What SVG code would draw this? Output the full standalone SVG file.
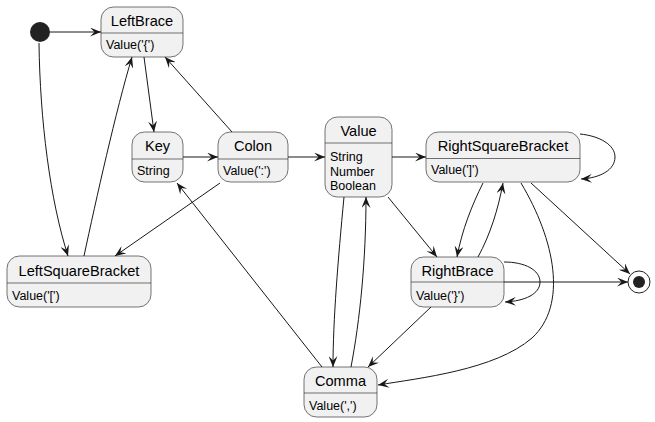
<svg xmlns="http://www.w3.org/2000/svg" width="655" height="422" viewBox="0 0 655 422">
<defs>
<style>
.n rect{fill:#F1F1F1;stroke:#181818;stroke-width:0.6}
.n line{stroke:#181818;stroke-width:0.6}
.t{font-family:"Liberation Sans",Arial,sans-serif;font-size:14.6px;fill:#000;text-anchor:middle}
.b{font-family:"Liberation Sans",Arial,sans-serif;font-size:12.5px;fill:#000}
#edges path{fill:none;stroke:#181818;stroke-width:1;marker-end:url(#ah)}
</style>
<marker id="ah" markerUnits="userSpaceOnUse" markerWidth="11" markerHeight="9" refX="11" refY="4.5" orient="auto" viewBox="0 0 11 9">
<path d="M0,0 L11,4.5 L0,9 L4.5,4.5 Z" fill="#181818"/>
</marker>
</defs>
<rect width="655" height="422" fill="#FFFFFF"/>
<g id="edges">
<path d="M50,32 L101,32"/>
<path d="M39,43 C40,120 50,200 68,256"/>
<path d="M84,256 C96,200 116,110 132,57"/>
<path d="M144,57 L154,132"/>
<path d="M232,132 L165,57"/>
<path d="M183,157 L218,157"/>
<path d="M288,157 L325,157"/>
<path d="M220,183 L115,256"/>
<path d="M322,367 L177,183"/>
<path d="M392,157 L426,157"/>
<path d="M388,197 L437,257"/>
<path d="M344,197 C338,260 333,320 333,367"/>
<path d="M351,367 C360,320 366,260 366,197"/>
<path d="M580,134 C600,136 615,145 615,157 C615,170 600,178 581,179"/>
<path d="M483,183 C472,205 462,230 457,257"/>
<path d="M478,257 C490,235 498,210 503,183"/>
<path d="M521,183 C555,240 568,305 532,338 C495,370 420,378 378,385"/>
<path d="M531,183 L630,274"/>
<path d="M504,262 C525,262 540,270 540,282 C540,294 525,301 505,302"/>
<path d="M504,282 L628,282"/>
<path d="M431,307 L368,367"/>
</g>
<g id="start"><circle cx="40" cy="32" r="10" fill="#222222"/></g>
<g id="end"><circle cx="639" cy="282" r="11" fill="none" stroke="#222222" stroke-width="1"/><circle cx="639" cy="282" r="6" fill="#222222"/></g>
<g id="LeftBrace" class="n"><rect x="101" y="7" width="82" height="50" rx="12.5"/><line x1="101" y1="33" x2="183" y2="33"/><text class="t" x="142" y="26">LeftBrace</text><text class="b" x="106" y="49">Value('{')</text></g>
<g id="Key" class="n"><rect x="132" y="132" width="51" height="50" rx="12.5"/><line x1="132" y1="159" x2="183" y2="159"/><text class="t" x="157.5" y="151">Key</text><text class="b" x="137" y="175">String</text></g>
<g id="Colon" class="n"><rect x="218" y="132" width="70" height="50" rx="12.5"/><line x1="218" y1="159" x2="288" y2="159"/><text class="t" x="253" y="151">Colon</text><text class="b" x="223" y="175">Value(':')</text></g>
<g id="Value" class="n"><rect x="325" y="117" width="67" height="80" rx="12.5"/><line x1="325" y1="143" x2="392" y2="143"/><text class="t" x="358.5" y="136">Value</text><text class="b" x="330" y="161">String</text><text class="b" x="330" y="175.5">Number</text><text class="b" x="330" y="190">Boolean</text></g>
<g id="RightSquareBracket" class="n"><rect x="426" y="132" width="154" height="50" rx="12.5"/><line x1="426" y1="158.5" x2="580" y2="158.5"/><text class="t" x="503" y="151">RightSquareBracket</text><text class="b" x="431" y="174">Value(']')</text></g>
<g id="RightBrace" class="n"><rect x="411" y="257" width="93" height="50" rx="12.5"/><line x1="411" y1="282" x2="504" y2="282"/><text class="t" x="457.5" y="276">RightBrace</text><text class="b" x="416" y="300">Value('}')</text></g>
<g id="LeftSquareBracket" class="n"><rect x="7" y="256" width="144" height="51" rx="12.5"/><line x1="7" y1="283" x2="151" y2="283"/><text class="t" x="79" y="276">LeftSquareBracket</text><text class="b" x="12" y="300">Value('[')</text></g>
<g id="Comma" class="n"><rect x="304" y="367" width="73" height="50" rx="12.5"/><line x1="304" y1="393" x2="377" y2="393"/><text class="t" x="340.5" y="386">Comma</text><text class="b" x="309" y="410">Value(',')</text></g>
</svg>
